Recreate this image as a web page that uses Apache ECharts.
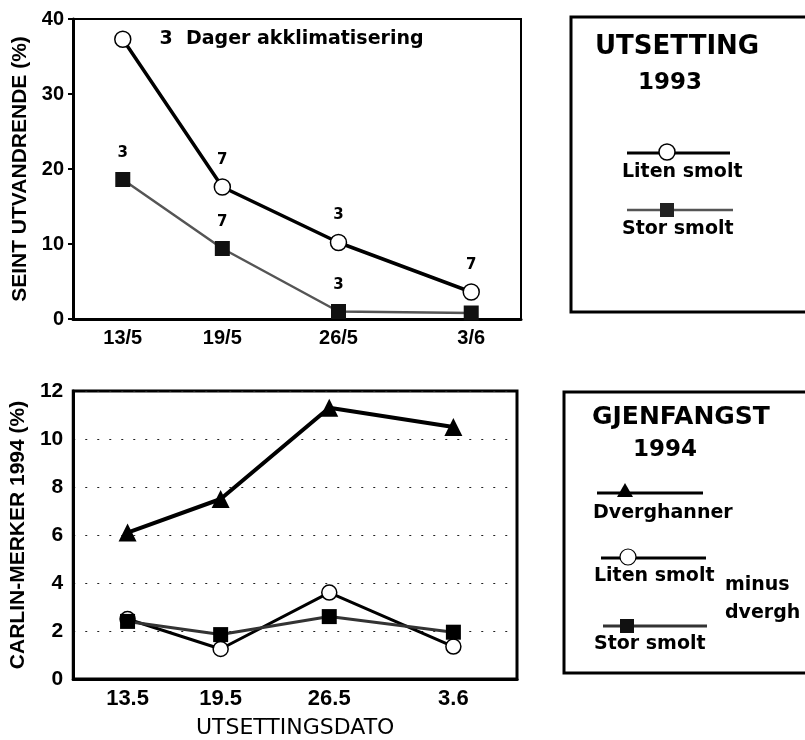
<!DOCTYPE html>
<html>
<head>
<meta charset="utf-8">
<script src="https://cdn.jsdelivr.net/npm/echarts@6/dist/echarts.min.js"></script>
<style>html,body{margin:0;padding:0;background:#fff}#c{width:805px;height:740px}</style>
</head>
<body>
<div id="c"></div>
<script>
// ---- data ----
var dayValues = [13, 19, 26, 34];                 // release dates as day counts (13 May .. 3 June)
var topTickLabels = ['13/5', '19/5', '26/5', '3/6'];
var bottomTickLabels = ['13.5', '19.5', '26.5', '3.6'];

// Top panel: SEINT UTVANDRENDE (%), utsetting 1993
var topLiten = [37.3, 17.6, 10.2, 3.6];
var topStor = [18.6, 9.4, 1.0, 0.8];
var topLitenLabels = ['3  Dager akklimatisering', '7', '3', '7'];
var topStorLabels = ['3', '7', '3', ''];

// Bottom panel: CARLIN-MERKER 1994 (%), gjenfangst 1994
var botDverg = [6.1, 7.5, 11.3, 10.5];
var botLiten = [2.5, 1.25, 3.6, 1.35];
var botStor = [2.4, 1.85, 2.6, 1.95];

var FONT = 'Liberation Sans, Arial, sans-serif';
var DJ = 'DejaVu Sans, sans-serif';

function pts(xs, ys, labels, firstRight) {
  return xs.map(function (x, i) {
    var d = { value: [x, ys[i]] };
    if (labels) {
      d.label = { show: labels[i] !== '', formatter: labels[i] };
      if (firstRight && i === 0) {
        d.label.position = 'right';
        d.label.distance = 28;
        d.label.fontSize = 19;
      }
    }
    return d;
  });
}

function xAxisFor(grid, min, max, labels, fs) {
  return {
    gridIndex: grid, type: 'value', min: min, max: max,
    axisLine: { show: true, lineStyle: { color: '#000', width: 3 } },
    axisTick: { show: false },
    splitLine: { show: false },
    axisLabel: {
      customValues: dayValues,
      formatter: function (v) { var k = dayValues.indexOf(v); return k >= 0 ? labels[k] : ''; },
      fontFamily: FONT, fontWeight: 'bold', fontSize: fs, color: '#000', margin: 9
    }
  };
}

var chart = echarts.init(document.getElementById('c'), null, { renderer: 'canvas' });

var option = {
  backgroundColor: '#fff',
  animation: false,
  grid: [
    { left: 73, top: 19, width: 448, height: 300, show: true, borderColor: '#000', borderWidth: 2, backgroundColor: 'transparent' },
    { left: 73, top: 391, width: 444, height: 289, show: true, borderColor: '#000', borderWidth: 3, backgroundColor: 'transparent' }
  ],
  xAxis: [
    xAxisFor(0, 10, 37, topTickLabels, 20),
    Object.assign(xAxisFor(1, 9.5, 38.1, bottomTickLabels, 22), {
      name: 'UTSETTINGSDATO', nameLocation: 'middle', nameGap: 38,
      nameTextStyle: { fontFamily: DJ, fontSize: 22, color: '#000' }
    })
  ],
  yAxis: [
    {
      gridIndex: 0, type: 'value', min: 0, max: 40, interval: 10,
      name: 'SEINT UTVANDRENDE (%)', nameLocation: 'middle', nameGap: 40, nameRotate: 90,
      nameTextStyle: { fontFamily: FONT, fontWeight: 'bold', fontSize: 21, color: '#000' },
      axisLine: { show: true, lineStyle: { color: '#000', width: 3 } },
      axisTick: { show: true, length: 5, lineStyle: { color: '#000', width: 2 } },
      splitLine: { show: false },
      axisLabel: { fontFamily: FONT, fontWeight: 'bold', fontSize: 20, color: '#000', margin: 9 }
    },
    {
      gridIndex: 1, type: 'value', min: 0, max: 12, interval: 2,
      name: 'CARLIN-MERKER 1994 (%)', nameLocation: 'middle', nameGap: 40, nameRotate: 90,
      nameTextStyle: { fontFamily: FONT, fontWeight: 'bold', fontSize: 21, color: '#000' },
      axisLine: { show: true, lineStyle: { color: '#000', width: 3 } },
      axisTick: { show: false },
      splitLine: { show: true, lineStyle: { color: '#222', width: 1, type: [2, 10] } },
      axisLabel: { fontFamily: FONT, fontWeight: 'bold', fontSize: 21, color: '#000', margin: 10 }
    }
  ],
  series: [
    {
      name: 'Stor smolt', type: 'line', xAxisIndex: 0, yAxisIndex: 0,
      data: pts(dayValues, topStor, topStorLabels, false),
      symbol: 'rect', symbolSize: 15,
      itemStyle: { color: '#111' },
      lineStyle: { color: '#555', width: 2.5 },
      label: { show: true, position: 'top', distance: 11, fontFamily: DJ, fontWeight: 'bold', fontSize: 15, color: '#000' }
    },
    {
      name: 'Liten smolt', type: 'line', xAxisIndex: 0, yAxisIndex: 0,
      data: pts(dayValues, topLiten, topLitenLabels, true),
      symbol: 'circle', symbolSize: 16,
      itemStyle: { color: '#fff', borderColor: '#000', borderWidth: 1.5 },
      lineStyle: { color: '#000', width: 3.5 },
      label: { show: true, position: 'top', distance: 11, fontFamily: DJ, fontWeight: 'bold', fontSize: 15, color: '#000' }
    },
    {
      name: 'Dverghanner', type: 'line', xAxisIndex: 1, yAxisIndex: 1,
      data: pts(dayValues, botDverg),
      symbol: 'triangle', symbolSize: 18,
      itemStyle: { color: '#000' },
      lineStyle: { color: '#000', width: 4 }
    },
    {
      name: 'Liten smolt minus dvergh', type: 'line', xAxisIndex: 1, yAxisIndex: 1,
      data: pts(dayValues, botLiten),
      symbol: 'circle', symbolSize: 15,
      itemStyle: { color: '#fff', borderColor: '#000', borderWidth: 1.5 },
      lineStyle: { color: '#000', width: 3 }
    },
    {
      name: 'Stor smolt 1994', type: 'line', xAxisIndex: 1, yAxisIndex: 1,
      data: pts(dayValues, botStor),
      symbol: 'rect', symbolSize: 15,
      itemStyle: { color: '#000' },
      lineStyle: { color: '#333', width: 3 }
    }
  ],
  graphic: [
    // top legend box
    { type: 'rect', shape: { x: 571, y: 17, width: 260, height: 295 }, style: { fill: 'none', stroke: '#000', lineWidth: 3 } },
    { type: 'text', style: { x: 595, y: 47, text: 'UTSETTING', font: 'bold 26px ' + DJ, fill: '#000', textAlign: 'left', textVerticalAlign: 'middle' } },
    { type: 'text', style: { x: 670, y: 83, text: '1993', font: 'bold 23px ' + DJ, fill: '#000', textAlign: 'center', textVerticalAlign: 'middle' } },
    { type: 'line', shape: { x1: 627, y1: 153, x2: 730, y2: 153 }, style: { stroke: '#000', lineWidth: 3 } },
    { type: 'circle', shape: { cx: 667, cy: 152, r: 8 }, style: { fill: '#fff', stroke: '#000', lineWidth: 1.5 } },
    { type: 'text', style: { x: 622, y: 172, text: 'Liten smolt', font: 'bold 19px ' + DJ, fill: '#000', textAlign: 'left', textVerticalAlign: 'middle' } },
    { type: 'line', shape: { x1: 627, y1: 210, x2: 733, y2: 210 }, style: { stroke: '#555', lineWidth: 2.5 } },
    { type: 'rect', shape: { x: 660, y: 203, width: 14, height: 14 }, style: { fill: '#222' } },
    { type: 'text', style: { x: 622, y: 229, text: 'Stor smolt', font: 'bold 19px ' + DJ, fill: '#000', textAlign: 'left', textVerticalAlign: 'middle' } },

    // bottom legend box
    { type: 'rect', shape: { x: 564, y: 392, width: 260, height: 281 }, style: { fill: 'none', stroke: '#000', lineWidth: 3 } },
    { type: 'text', style: { x: 592, y: 417, text: 'GJENFANGST', font: 'bold 25px ' + DJ, fill: '#000', textAlign: 'left', textVerticalAlign: 'middle' } },
    { type: 'text', style: { x: 665, y: 450, text: '1994', font: 'bold 23px ' + DJ, fill: '#000', textAlign: 'center', textVerticalAlign: 'middle' } },
    { type: 'line', shape: { x1: 597, y1: 493, x2: 703, y2: 493 }, style: { stroke: '#000', lineWidth: 3 } },
    { type: 'polygon', shape: { points: [[625, 483], [617, 497], [633, 497]] }, style: { fill: '#000' } },
    { type: 'text', style: { x: 593, y: 513, text: 'Dverghanner', font: 'bold 19px ' + DJ, fill: '#000', textAlign: 'left', textVerticalAlign: 'middle' } },
    { type: 'line', shape: { x1: 601, y1: 558, x2: 706, y2: 558 }, style: { stroke: '#000', lineWidth: 3 } },
    { type: 'circle', shape: { cx: 628, cy: 557, r: 8 }, style: { fill: '#fff', stroke: '#000', lineWidth: 1.2 } },
    { type: 'text', style: { x: 594, y: 576, text: 'Liten smolt', font: 'bold 19px ' + DJ, fill: '#000', textAlign: 'left', textVerticalAlign: 'middle' } },
    { type: 'text', style: { x: 725, y: 585, text: 'minus', font: 'bold 19px ' + DJ, fill: '#000', textAlign: 'left', textVerticalAlign: 'middle' } },
    { type: 'text', style: { x: 725, y: 613, text: 'dvergh', font: 'bold 19px ' + DJ, fill: '#000', textAlign: 'left', textVerticalAlign: 'middle' } },
    { type: 'line', shape: { x1: 603, y1: 626, x2: 707, y2: 626 }, style: { stroke: '#333', lineWidth: 3 } },
    { type: 'rect', shape: { x: 620, y: 619, width: 14, height: 14 }, style: { fill: '#111' } },
    { type: 'text', style: { x: 594, y: 644, text: 'Stor smolt', font: 'bold 19px ' + DJ, fill: '#000', textAlign: 'left', textVerticalAlign: 'middle' } }
  ]
};
chart.setOption(option);
</script>
</body>
</html>
